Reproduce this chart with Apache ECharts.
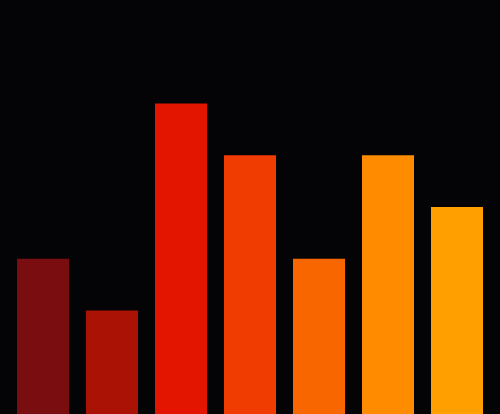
<!DOCTYPE html>
<html>
<head>
<meta charset="utf-8">
<script src="https://cdn.jsdelivr.net/npm/echarts@6/dist/echarts.min.js"></script>
<style>
  html, body { margin: 0; padding: 0; background: #040305; }
  #chart { width: 500px; height: 414px; }
</style>
</head>
<body>
<div id="chart"></div>
<script>
  const categories = ['A', 'B', 'C', 'D', 'E', 'F', 'G'];
  const values = [3, 2, 6, 5, 3, 5, 4];
  const barColors = ['#7a0d0f', '#aa1205', '#e31500', '#f03c00', '#f86600', '#ff8c00', '#ffa000'];

  const chart = echarts.init(document.getElementById('chart'));
  chart.setOption({
    backgroundColor: '#040305',
    animation: false,
    grid: { left: 8.5, right: 8.5, top: 0, bottom: 0, containLabel: false },
    xAxis: {
      type: 'category',
      data: categories,
      show: false
    },
    yAxis: {
      type: 'value',
      min: 0,
      max: 8,
      show: false
    },
    series: [{
      type: 'bar',
      barWidth: 52,
      data: values.map((v, i) => ({
        value: v,
        itemStyle: { color: barColors[i], borderColor: barColors[i], borderWidth: 0 }
      }))
    }]
  });
</script>
</body>
</html>
